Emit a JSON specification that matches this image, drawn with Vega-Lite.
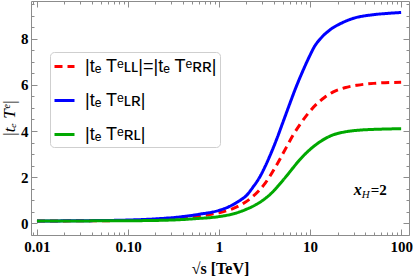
{
  "$schema": "https://vega.github.io/schema/vega-lite/v6.json",
  "width": 378,
  "height": 234,
  "autosize": {"type": "none"},
  "padding": {"left": 31, "top": 1, "right": 4, "bottom": 44},
  "background": "white",
  "config": {
    "view": {"stroke": "#8c8c8c", "strokeWidth": 1},
    "axis": {
      "domain": false,
      "grid": false,
      "tickColor": "#8c8c8c",
      "tickWidth": 1,
      "labelFont": "Liberation Serif",
      "labelFontWeight": "bold",
      "labelFontSize": 15,
      "labelColor": "black",
      "titleColor": "black"
    }
  },
  "data": {
    "values": [
      {"s": 0.01, "T": 0.09, "series": "LL"},
      {"s": 0.1, "T": 0.11, "series": "LL"},
      {"s": 0.3, "T": 0.18, "series": "LL"},
      {"s": 0.55, "T": 0.28, "series": "LL"},
      {"s": 1.0, "T": 0.45, "series": "LL"},
      {"s": 1.4, "T": 0.62, "series": "LL"},
      {"s": 1.9, "T": 0.88, "series": "LL"},
      {"s": 2.7, "T": 1.38, "series": "LL"},
      {"s": 3.2, "T": 1.72, "series": "LL"},
      {"s": 3.6, "T": 2.02, "series": "LL"},
      {"s": 4.4, "T": 2.6, "series": "LL"},
      {"s": 5.5, "T": 3.3, "series": "LL"},
      {"s": 6.5, "T": 3.82, "series": "LL"},
      {"s": 7.8, "T": 4.3, "series": "LL"},
      {"s": 9.5, "T": 4.76, "series": "LL"},
      {"s": 12, "T": 5.2, "series": "LL"},
      {"s": 14.5, "T": 5.47, "series": "LL"},
      {"s": 18, "T": 5.7, "series": "LL"},
      {"s": 24, "T": 5.88, "series": "LL"},
      {"s": 33, "T": 5.99, "series": "LL"},
      {"s": 50, "T": 6.07, "series": "LL"},
      {"s": 100, "T": 6.12, "series": "LL"},
      {"s": 0.01, "T": 0.09, "series": "LR"},
      {"s": 0.03, "T": 0.1, "series": "LR"},
      {"s": 0.1, "T": 0.13, "series": "LR"},
      {"s": 0.2, "T": 0.18, "series": "LR"},
      {"s": 0.4, "T": 0.28, "series": "LR"},
      {"s": 0.6, "T": 0.38, "series": "LR"},
      {"s": 1.0, "T": 0.55, "series": "LR"},
      {"s": 1.3, "T": 0.72, "series": "LR"},
      {"s": 1.6, "T": 0.92, "series": "LR"},
      {"s": 2.0, "T": 1.2, "series": "LR"},
      {"s": 2.4, "T": 1.6, "series": "LR"},
      {"s": 2.8, "T": 2.0, "series": "LR"},
      {"s": 3.2, "T": 2.45, "series": "LR"},
      {"s": 3.6, "T": 2.9, "series": "LR"},
      {"s": 4.3, "T": 3.65, "series": "LR"},
      {"s": 5.0, "T": 4.35, "series": "LR"},
      {"s": 6.0, "T": 5.2, "series": "LR"},
      {"s": 7.0, "T": 5.9, "series": "LR"},
      {"s": 8.3, "T": 6.6, "series": "LR"},
      {"s": 10, "T": 7.3, "series": "LR"},
      {"s": 11.2, "T": 7.68, "series": "LR"},
      {"s": 12.9, "T": 8.0, "series": "LR"},
      {"s": 16.6, "T": 8.4, "series": "LR"},
      {"s": 23, "T": 8.72, "series": "LR"},
      {"s": 30, "T": 8.9, "series": "LR"},
      {"s": 46, "T": 9.04, "series": "LR"},
      {"s": 70, "T": 9.11, "series": "LR"},
      {"s": 100, "T": 9.15, "series": "LR"},
      {"s": 0.01, "T": 0.09, "series": "RL"},
      {"s": 0.1, "T": 0.1, "series": "RL"},
      {"s": 0.3, "T": 0.13, "series": "RL"},
      {"s": 0.55, "T": 0.19, "series": "RL"},
      {"s": 1.0, "T": 0.28, "series": "RL"},
      {"s": 1.5, "T": 0.42, "series": "RL"},
      {"s": 2.0, "T": 0.6, "series": "RL"},
      {"s": 2.6, "T": 0.82, "series": "RL"},
      {"s": 3.2, "T": 1.06, "series": "RL"},
      {"s": 4.0, "T": 1.4, "series": "RL"},
      {"s": 4.7, "T": 1.72, "series": "RL"},
      {"s": 5.6, "T": 2.08, "series": "RL"},
      {"s": 6.5, "T": 2.4, "series": "RL"},
      {"s": 7.5, "T": 2.7, "series": "RL"},
      {"s": 9.5, "T": 3.12, "series": "RL"},
      {"s": 12, "T": 3.45, "series": "RL"},
      {"s": 14.5, "T": 3.66, "series": "RL"},
      {"s": 17.8, "T": 3.83, "series": "RL"},
      {"s": 24, "T": 3.96, "series": "RL"},
      {"s": 33, "T": 4.03, "series": "RL"},
      {"s": 60, "T": 4.08, "series": "RL"},
      {"s": 100, "T": 4.1, "series": "RL"}
    ]
  },
  "layer": [
    {
      "mark": {"type": "line", "strokeWidth": 3, "clip": true, "interpolate": "monotone"},
      "encoding": {
        "x": {
          "field": "s", "type": "quantitative",
          "scale": {"type": "log", "domain": [0.0086, 122], "nice": false},
          "axis": {
            "orient": "bottom",
            "values": [0.01, 0.1, 1, 10, 100],
            "labelExpr": "datum.value < 0.05 ? '0.01' : datum.value < 0.5 ? '0.10' : datum.label",
            "tickSize": -6,
            "labelPadding": 10,
            "title": "√s [TeV]",
            "titleFont": "Liberation Serif",
            "titleFontWeight": "bold",
            "titleFontSize": 16,
            "titlePadding": 6
          }
        },
        "y": {
          "field": "T", "type": "quantitative",
          "scale": {"domain": [-0.52, 9.65], "nice": false, "zero": false},
          "axis": {
            "orient": "left",
            "values": [0, 2, 4, 6, 8],
            "tickSize": -6,
            "labelPadding": 9,
            "title": "|tₑ Tᵉ|",
            "titleFont": "Liberation Serif",
            "titleFontStyle": "italic",
            "titleFontWeight": "normal",
            "titleFontSize": 17,
            "titlePadding": 2
          }
        },
        "color": {
          "field": "series", "type": "nominal",
          "scale": {"domain": ["LL", "LR", "RL"], "range": ["#ff0000", "#0000ff", "#00a800"]},
          "legend": {
            "title": null,
            "orient": "none",
            "legendX": 19,
            "legendY": 51,
            "symbolType": "stroke",
            "symbolSize": 400,
            "symbolStrokeWidth": 3,
            "labelFont": "Liberation Sans",
            "labelFontSize": 18,
            "labelColor": "black",
            "labelLimit": 300,
            "labelOffset": 9,
            "labelExpr": "datum.value == 'LL' ? '|tₑ Tᵉʟʟ|=|tₑ Tᵉʀʀ|' : datum.value == 'LR' ? '|tₑ Tᵉʟʀ|' : '|tₑ Tᵉʀʟ|'",
            "rowPadding": 13,
            "padding": 3,
            "strokeColor": "#cfcfcf",
            "fillColor": "white",
            "cornerRadius": 4
          }
        },
        "strokeDash": {
          "field": "series", "type": "nominal",
          "scale": {"domain": ["LL", "LR", "RL"], "range": [[8, 5], [1, 0], [1, 0]]},
          "legend": {
            "title": null,
            "orient": "none",
            "legendX": 19,
            "legendY": 51,
            "symbolType": "stroke",
            "symbolSize": 400,
            "symbolStrokeWidth": 3,
            "labelFont": "Liberation Sans",
            "labelFontSize": 18,
            "labelColor": "black",
            "labelLimit": 300,
            "labelOffset": 9,
            "labelExpr": "datum.value == 'LL' ? '|tₑ Tᵉʟʟ|=|tₑ Tᵉʀʀ|' : datum.value == 'LR' ? '|tₑ Tᵉʟʀ|' : '|tₑ Tᵉʀʟ|'",
            "rowPadding": 13,
            "padding": 3,
            "strokeColor": "#cfcfcf",
            "fillColor": "white",
            "cornerRadius": 4
          }
        }
      }
    },
    {
      "mark": {"type": "point", "opacity": 0},
      "encoding": {
        "x": {"field": "s", "type": "quantitative", "axis": {"orient": "bottom", "values": [0.009, 0.02, 0.03, 0.04, 0.05, 0.06, 0.07, 0.08, 0.09, 0.2, 0.3, 0.4, 0.5, 0.6, 0.7, 0.8, 0.9, 2, 3, 4, 5, 6, 7, 8, 9, 20, 30, 40, 50, 60, 70, 80, 90], "tickSize": -3, "labels": false, "title": null}},
        "y": {"field": "T", "type": "quantitative", "axis": {"orient": "left", "values": [-0.5, 0.5, 1, 1.5, 2.5, 3, 3.5, 4.5, 5, 5.5, 6.5, 7, 7.5, 8.5, 9, 9.5], "tickSize": -3, "labels": false, "title": null}}
      }
    },
    {
      "mark": {"type": "point", "opacity": 0},
      "encoding": {
        "x": {"field": "s", "type": "quantitative", "axis": {"orient": "top", "values": [0.01, 0.1, 1, 10, 100], "tickSize": -6, "labels": false, "title": null}},
        "y": {"field": "T", "type": "quantitative", "axis": {"orient": "right", "values": [0, 2, 4, 6, 8], "tickSize": -6, "labels": false, "title": null}}
      }
    },
    {
      "mark": {"type": "point", "opacity": 0},
      "encoding": {
        "x": {"field": "s", "type": "quantitative", "axis": {"orient": "top", "values": [0.009, 0.02, 0.03, 0.04, 0.05, 0.06, 0.07, 0.08, 0.09, 0.2, 0.3, 0.4, 0.5, 0.6, 0.7, 0.8, 0.9, 2, 3, 4, 5, 6, 7, 8, 9, 20, 30, 40, 50, 60, 70, 80, 90], "tickSize": -3, "labels": false, "title": null}},
        "y": {"field": "T", "type": "quantitative", "axis": {"orient": "right", "values": [-0.5, 0.5, 1, 1.5, 2.5, 3, 3.5, 4.5, 5, 5.5, 6.5, 7, 7.5, 8.5, 9, 9.5], "tickSize": -3, "labels": false, "title": null}}
      }
    },
    {
      "data": {"values": [{"s": 37, "T": 1.22, "note": "x"}]},
      "mark": {"type": "text", "align": "right", "baseline": "alphabetic", "font": "Liberation Serif", "fontStyle": "italic", "fontWeight": "bold", "fontSize": 16, "color": "black"},
      "encoding": {
        "x": {"field": "s", "type": "quantitative", "axis": null},
        "y": {"field": "T", "type": "quantitative", "axis": null},
        "text": {"field": "note"}
      }
    },
    {
      "data": {"values": [{"s": 37, "T": 1.22, "note": "H"}]},
      "mark": {"type": "text", "align": "left", "baseline": "alphabetic", "dy": 3, "font": "Liberation Serif", "fontStyle": "italic", "fontSize": 11, "color": "black"},
      "encoding": {
        "x": {"field": "s", "type": "quantitative", "axis": null},
        "y": {"field": "T", "type": "quantitative", "axis": null},
        "text": {"field": "note"}
      }
    },
    {
      "data": {"values": [{"s": 37, "T": 1.22, "note": "=2"}]},
      "mark": {"type": "text", "align": "left", "baseline": "alphabetic", "dx": 9, "font": "Liberation Serif", "fontWeight": "bold", "fontSize": 15, "color": "black"},
      "encoding": {
        "x": {"field": "s", "type": "quantitative", "axis": null},
        "y": {"field": "T", "type": "quantitative", "axis": null},
        "text": {"field": "note"}
      }
    }
  ],
  "resolve": {"axis": {"x": "independent", "y": "independent"}}
}
